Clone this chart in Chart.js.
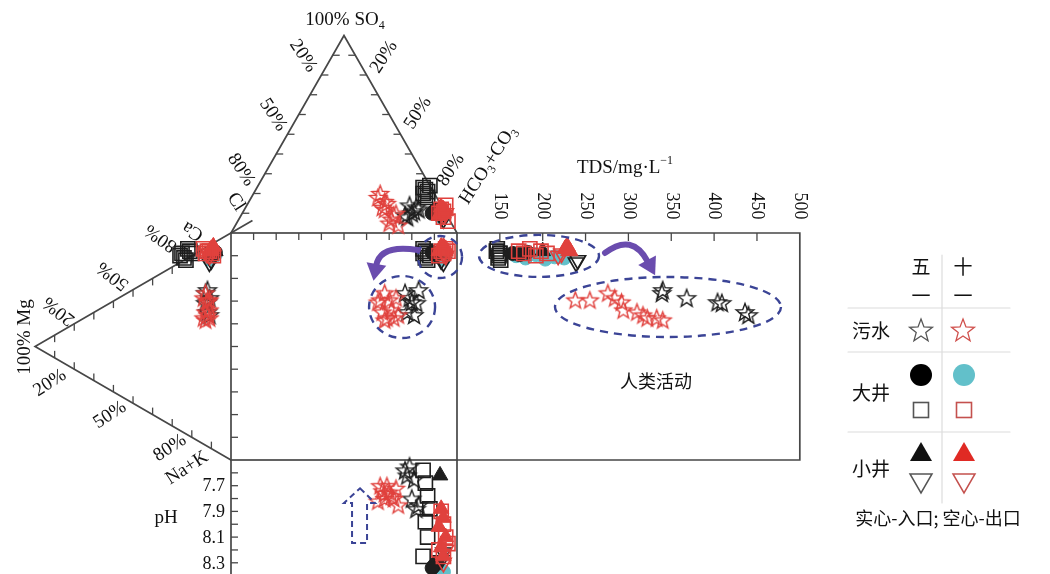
<!DOCTYPE html>
<html>
<head>
<meta charset="utf-8">
<script src="https://cdn.jsdelivr.net/npm/chart.js@4.4.0/dist/chart.umd.min.js"></script>
<style>
  html, body { margin: 0; padding: 0; background: #fff; }
  #wrap { width: 1050px; height: 574px; position: relative; }
</style>
</head>
<body>
<div id="wrap"><canvas id="chart"></canvas></div>
<script>
// one row per sample: [HCO3 %, SO4 %, Ca %, Mg %, TDS mg/L, pH]
// (Cl = 100 - HCO3 - SO4, Na+K = 100 - Ca - Mg)
const sewageMay = [
  [77, 12, 68.9, 12, 340, 7.85],
  [72.5, 9, 67.1, 13, 339, 7.58],
  [72, 14, 65.9, 11, 368, 7.55],
  [75, 10, 63.6, 12, 404, 7.80],
  [75.5, 13, 62.7, 13, 409, 7.88],
  [74, 8, 59.2, 12, 436, 7.62],
  [75.5, 11, 58.4, 11, 440, 7.65]
];
const sewageOct = [
  [56, 20, 64.5, 12, 238, 7.70],
  [67.5, 5, 65, 11, 255, 7.75],
  [60, 16, 67.1, 13, 276, 7.80],
  [68, 10, 64.4, 14, 284, 7.72],
  [56, 18, 63.6, 12, 292, 7.82],
  [67.5, 7, 60.6, 11, 294, 7.78],
  [60.5, 13, 58.7, 13, 310, 7.74],
  [72, 4, 57.9, 12, 317, 7.85],
  [61.5, 15, 55.6, 14, 322, 7.70],
  [67.5, 9, 57.1, 11, 333, 7.80],
  [62, 12, 55.2, 13, 340, 7.76]
];
const bigInMay = [
  [84.5, 11, 86.5, 9, 165, 8.32],
  [85, 12, 85.5, 10, 173, 8.30],
  [84, 10, 87.5, 8, 182, 8.34]
];
const bigInOct = [
  [87, 10, 85.5, 9, 169, 8.35],
  [89, 8, 84, 10, 180, 8.36],
  [85, 12, 86.5, 8, 192, 8.33],
  [89.5, 9, 83, 11, 203, 8.37],
  [86.5, 11, 85, 9, 214, 8.34],
  [88, 10, 84, 10, 225, 8.36]
];
const bigOutMay = [
  [75, 20, 82, 22, 147, 7.58],
  [75, 22, 77, 24, 148, 7.68],
  [78, 18, 81, 20, 150, 7.78],
  [76, 24, 77, 26, 149, 7.88],
  [76.5, 19, 81.5, 21, 146, 7.98],
  [76.5, 21, 76.5, 23, 151, 8.10],
  [73.5, 23, 78.5, 25, 150, 8.25]
];
const bigOutOct = [
  [87, 12, 86, 12, 172, 7.90],
  [90, 8, 86, 10, 178, 8.00],
  [88, 14, 86, 14, 185, 8.10],
  [87, 10, 85.5, 9, 192, 8.20],
  [93, 6, 86.5, 11, 198, 8.15],
  [88.5, 11, 84.5, 13, 205, 8.25]
];
const smallInMay = [
  [86.5, 12, 88, 8, 200, 7.62]
];
const smallInOct = [
  [88, 10, 88, 10, 226, 7.88],
  [88, 12, 89.5, 9, 228, 7.95],
  [87.5, 9, 86.5, 11, 230, 8.02],
  [89.5, 11, 88, 10, 227, 8.10],
  [86.5, 13, 89.5, 9, 229, 8.18],
  [89, 10, 87, 10, 232, 8.25]
];
const smallOutMay = [
  [89, 8, 83, 10, 241, 8.28],
  [90.5, 7, 81.5, 11, 239, 8.22]
];
const smallOutOct = [
  [89.5, 9, 85, 12, 222, 8.30],
  [90, 10, 84.5, 11, 218, 8.20]
];

const tdsTicks = [150, 200, 250, 300, 350, 400, 450, 500];
const phTicks = [7.7, 7.9, 8.1, 8.3];

const BLACK = '#1e1e1e';
const RED = '#e0413d';
const CYAN = '#62c0ca';
const LINE = '#474747';
const NAVY = '#3b4496';
const PURPLE = '#6a4cae';
const SERIF = "'Liberation Serif', 'DejaVu Serif', serif";
const CJK = "'Noto Sans CJK SC', sans-serif";

const TRI_H = 87;        // height of the anion triangle, in % units of the square
const LEFT_APEX = -86.7; // Mg apex of the cation triangle

function starPath(g, cx, cy, r) {
  const ri = r * 0.42;
  g.beginPath();
  for (let i = 0; i < 10; i++) {
    const a = -Math.PI / 2 + i * Math.PI / 5;
    const rr = i % 2 ? ri : r;
    g.lineTo(cx + rr * Math.cos(a), cy + rr * Math.sin(a));
  }
  g.closePath();
}

function starImage(color, r, lw) {
  const c = document.createElement('canvas');
  const s = Math.ceil(2 * r + 2 * lw + 2);
  c.width = c.height = s;
  const g = c.getContext('2d');
  starPath(g, s / 2, s / 2 + 0.8, r);
  g.strokeStyle = color;
  g.lineWidth = lw;
  g.stroke();
  return c;
}

function panels(rows) {
  const tri = [], cat = [], sq = [], tds = [], ph = [];
  rows.forEach(([hco3, so4, ca, mg, t, p]) => {
    const ax = hco3 + so4 / 2;
    const cy = ca + mg / 2;
    tri.push({ x: ax, y: 100 + so4 / 100 * TRI_H });
    cat.push({ x: LEFT_APEX * mg / 100, y: cy });
    sq.push({ x: ax, y: cy });
    tds.push({ x: t, y: cy });
    ph.push({ x: ax, y: p });
  });
  return { tri, cat, sq, tds, ph };
}

function markStyle(kind, color) {
  if (kind === 'star') {
    return { pointStyle: starImage(color, color === RED ? 8.8 : 9.3, 1.4), pointRadius: 9,
      backgroundColor: color, borderColor: color };
  }
  if (kind === 'dot') {
    return { pointStyle: 'circle', pointRadius: 7, backgroundColor: color, borderColor: color, borderWidth: 1 };
  }
  if (kind === 'square') {
    return { pointStyle: 'rect', pointRadius: 10, backgroundColor: 'rgba(0,0,0,0)', borderColor: color, borderWidth: 1.6 };
  }
  if (kind === 'tri') {
    return { pointStyle: 'triangle', pointRadius: 9, backgroundColor: color, borderColor: color, borderWidth: 1 };
  }
  return { pointStyle: 'triangle', rotation: 180, pointRadius: 9, backgroundColor: 'rgba(0,0,0,0)', borderColor: color, borderWidth: 1.6 };
}

const series = [
  { rows: sewageOct, kind: 'star', color: RED, order: 0 },
  { rows: bigOutOct, kind: 'square', color: RED, order: 1 },
  { rows: smallInOct, kind: 'tri', color: RED, order: 2 },
  { rows: smallOutOct, kind: 'down', color: RED, order: 3 },
  { rows: sewageMay, kind: 'star', color: BLACK, order: 4 },
  { rows: bigOutMay, kind: 'square', color: BLACK, order: 5 },
  { rows: smallOutMay, kind: 'down', color: BLACK, order: 6 },
  { rows: smallInMay, kind: 'tri', color: BLACK, order: 7 },
  { rows: bigInMay, kind: 'dot', color: BLACK, order: 8 },
  { rows: bigInOct, kind: 'dot', color: CYAN, order: 9 }
];

const datasets = [];
series.forEach(s => {
  const p = panels(s.rows);
  const st = markStyle(s.kind, s.color);
  [['tri', 'x', 'y'], ['cat', 'x', 'y'], ['sq', 'x', 'y'], ['tds', 'xt', 'y'], ['ph', 'x', 'yp']].forEach(([k, xa, ya]) => {
    datasets.push(Object.assign({ data: p[k], xAxisID: xa, yAxisID: ya, order: s.order, clip: false }, st));
  });
});

// annotations, placed in the chart's own units
const ellipses = [
  { ax: 'x', x: 75.7, y: 67.4, rx: 33, ry: 31 },
  { ax: 'x', x: 92.5, y: 89.4, rx: 22, ry: 21 },
  { ax: 'xt', x: 195.7, y: 89.9, rx: 60, ry: 21 },
  { ax: 'xt', x: 346.2, y: 67.4, rx: 113, ry: 30 }
];
const arrows = [
  { ax: 'x', pts: [[82.7, 92.5], [65.9, 95.2], [64.2, 85.5]] },
  { ax: 'xt', pts: [[272.7, 91.2], [304.2, 100.4], [322.9, 87.2]] }
];

function richText(g, parts, x, y, deg, size, family) {
  if (typeof parts === 'string') parts = [[parts, 'n']];
  g.save();
  g.translate(x, y);
  g.rotate(deg * Math.PI / 180);
  g.textBaseline = 'middle';
  g.textAlign = 'left';
  g.fillStyle = '#111';
  const fontOf = k => (k === 'n' ? size : Math.round(size * 0.62)) + 'px ' + family;
  let w = 0;
  parts.forEach(([t, k]) => { g.font = fontOf(k); w += g.measureText(t).width; });
  let cx = -w / 2;
  parts.forEach(([t, k]) => {
    g.font = fontOf(k);
    const dy = k === 'sub' ? size * 0.32 : k === 'sup' ? -size * 0.38 : 0;
    g.fillText(t, cx, dy);
    cx += g.measureText(t).width;
  });
  g.restore();
}

const labels = [
  [[['100% SO', 'n'], ['4', 'sub']], 345, 20, 0],
  ['20%', 303, 56, 57], ['50%', 273, 115, 57], ['80%', 241, 170, 57], ['Cl', 236, 202, 57],
  ['20%', 384, 57, -57], ['50%', 418, 113, -57], ['80%', 451, 170, -57],
  [[['HCO', 'n'], ['3', 'sub'], ['+CO', 'n'], ['3', 'sub']], 488, 165, -57],
  ['Ca', 193, 231, 212], ['80%', 161, 238, 215], ['50%', 113, 276, 218], ['20%', 59, 311, 218],
  ['100% Mg', 25, 337, -90],
  ['20%', 50, 383, -33], ['50%', 110, 415, -33], ['80%', 170, 448, -33], ['Na+K', 187, 468, -33],
  ['pH', 166, 518, 0],
  [[['TDS/mg·L', 'n'], ['−1', 'sup']], 625, 168, 0]
];

const durov = {
  id: 'durov',
  beforeDatasetsDraw(chart) {
    const g = chart.ctx;
    const X = chart.scales.x, XT = chart.scales.xt, Y = chart.scales.y, YP = chart.scales.yp;
    const P = (x, y) => [X.getPixelForValue(x), Y.getPixelForValue(y)];
    const line = pts => { g.beginPath(); pts.forEach((p, i) => i ? g.lineTo(p[0], p[1]) : g.moveTo(p[0], p[1])); g.stroke(); };
    g.save();
    g.strokeStyle = LINE;
    g.lineWidth = 1.7;
    // anion triangle
    line([P(0, 100), P(50, 100 + TRI_H), P(100, 100)]);
    // cation triangle (upper side runs a little past the Ca corner)
    line([P(9.5, 105.5), P(LEFT_APEX, 50), P(0, 0)]);
    // square
    const [l, t] = P(0, 100), [r, b] = P(100, 0);
    g.strokeRect(l, t, r - l, b - t);
    // TDS box
    const tr = XT.getPixelForValue(500);
    line([[r, t], [tr, t], [tr, b], [r, b]]);
    // pH box
    line([[l, b], [l, chart.height + 2]]);
    line([[r, b], [r, chart.height + 2]]);

    g.lineWidth = 1.3;
    for (let i = 1; i < 10; i++) {
      const f = i / 10;
      let p;
      p = P(50 * f, 100 + TRI_H * f); line([p, [p[0] + 7, p[1]]]);
      p = P(100 - 50 * f, 100 + TRI_H * f); line([p, [p[0] - 7, p[1]]]);
      p = P(LEFT_APEX * f, 100 - 50 * f); line([p, [p[0], p[1] + 7]]);
      p = P(LEFT_APEX * f, 50 * f); line([p, [p[0], p[1] - 7]]);
      p = P(i * 10, 100); line([p, [p[0], p[1] + 7]]);
      p = P(0, i * 10); line([p, [p[0] + 7, p[1]]]);
    }
    tdsTicks.forEach(v => {
      const x = XT.getPixelForValue(v);
      if (v < 500) line([[x, t], [x, t + 8]]);
      richText(g, String(v), x, 206, 90, 18, SERIF);
    });
    for (let v = 7.6; v < 8.45; v += 0.1) {
      const y = YP.getPixelForValue(v);
      line([[l, y], [l + 7, y]]);
    }
    phTicks.forEach(v => {
      const y = YP.getPixelForValue(v);
      g.save();
      g.font = '18px ' + SERIF;
      g.fillStyle = '#111';
      g.textAlign = 'right';
      g.textBaseline = 'middle';
      g.fillText(v.toFixed(1), l - 6, y + 1);
      g.restore();
    });
    labels.forEach(([txt, x, y, deg]) => richText(g, txt, x, y, deg, 19, SERIF));
    richText(g, '人类活动', 656, 381, 0, 18, CJK);
    g.restore();
  },
  afterDatasetsDraw(chart) {
    const g = chart.ctx;
    const Y = chart.scales.y, YP = chart.scales.yp, X = chart.scales.x;
    g.save();
    // dashed ellipses
    g.strokeStyle = NAVY;
    g.lineWidth = 2.4;
    g.setLineDash([8, 6]);
    ellipses.forEach(e => {
      const cx = chart.scales[e.ax].getPixelForValue(e.x), cy = Y.getPixelForValue(e.y);
      g.beginPath();
      g.ellipse(cx, cy, e.rx, e.ry, 0, 0, Math.PI * 2);
      g.stroke();
    });
    // dashed hollow up arrow in the pH box
    const ax = X.getPixelForValue(57.1);
    const tip = YP.getPixelForValue(7.72), neck = YP.getPixelForValue(7.835), foot = YP.getPixelForValue(8.146);
    g.lineWidth = 2;
    g.setLineDash([6, 4]);
    g.beginPath();
    g.moveTo(ax, tip);
    g.lineTo(ax + 15, neck);
    g.lineTo(ax + 7, neck);
    g.lineTo(ax + 7, foot);
    g.lineTo(ax - 8, foot);
    g.lineTo(ax - 8, neck);
    g.lineTo(ax - 16, neck);
    g.closePath();
    g.stroke();
    g.setLineDash([]);
    // purple curved arrows
    arrows.forEach(a => {
      const S = chart.scales[a.ax];
      const p = a.pts.map(([x, y]) => [S.getPixelForValue(x), Y.getPixelForValue(y)]);
      g.strokeStyle = PURPLE;
      g.fillStyle = PURPLE;
      g.lineWidth = 6;
      g.lineCap = 'round';
      g.beginPath();
      g.moveTo(p[0][0], p[0][1]);
      g.quadraticCurveTo(p[1][0], p[1][1], p[2][0], p[2][1]);
      g.stroke();
      const dx = p[2][0] - p[1][0], dy = p[2][1] - p[1][1], d = Math.hypot(dx, dy);
      const ux = dx / d, uy = dy / d;
      const tx = p[2][0] + ux * 15, ty = p[2][1] + uy * 15;
      const bx = p[2][0] - ux * 2, by = p[2][1] - uy * 2;
      g.beginPath();
      g.moveTo(tx, ty);
      g.lineTo(bx - uy * 10, by + ux * 10);
      g.lineTo(bx + uy * 10, by - ux * 10);
      g.closePath();
      g.fill();
    });

    // legend table
    g.strokeStyle = '#dcdcdc';
    g.lineWidth = 1.2;
    g.beginPath();
    g.moveTo(942, 255); g.lineTo(942, 503);
    [308, 352, 432].forEach(y => { g.moveTo(848, y); g.lineTo(1010, y); });
    g.stroke();
    [['五', 921, 267], ['一', 921, 296], ['十', 963, 267], ['一', 963, 296],
     ['污水', 871, 331], ['大井', 871, 393], ['小井', 871, 469]].forEach(([t, x, y]) => richText(g, t, x, y, 0, 19, CJK));
    richText(g, '实心-入口; 空心-出口', 938, 518, 0, 18, CJK);

    const legendStar = (x, y, c) => { starPath(g, x, y + 1, 12); g.strokeStyle = c; g.lineWidth = 1.3; g.stroke(); };
    legendStar(921, 330, '#555');
    legendStar(963, 330, '#d0504c');
    g.fillStyle = '#000';
    g.beginPath(); g.arc(921, 375, 11, 0, Math.PI * 2); g.fill();
    g.fillStyle = CYAN;
    g.beginPath(); g.arc(964, 375, 11, 0, Math.PI * 2); g.fill();
    g.lineWidth = 1.6;
    g.strokeStyle = '#555'; g.strokeRect(913.5, 402.5, 15, 15);
    g.strokeStyle = '#c4514e'; g.strokeRect(956.5, 402.5, 15, 15);
    const tri = (x, y, up, fill, stroke) => {
      g.beginPath();
      if (up) { g.moveTo(x, y - 10); g.lineTo(x + 11, y + 9); g.lineTo(x - 11, y + 9); }
      else { g.moveTo(x - 11, y - 9); g.lineTo(x + 11, y - 9); g.lineTo(x, y + 10); }
      g.closePath();
      if (fill) { g.fillStyle = fill; g.fill(); }
      if (stroke) { g.strokeStyle = stroke; g.lineWidth = 1.5; g.stroke(); }
    };
    tri(921, 452, true, '#111', null);
    tri(964, 452, true, '#e02a24', null);
    tri(921, 483, false, null, '#555');
    tri(964, 483, false, null, '#c4514e');
    g.restore();
  }
};

new Chart(document.getElementById('chart'), {
  type: 'scatter',
  data: { datasets },
  options: {
    responsive: true,
    maintainAspectRatio: false,
    animation: false,
    events: [],
    layout: { padding: 0, autoPadding: false },
    plugins: { legend: { display: false }, tooltip: { enabled: false } },
    scales: {
      x: { type: 'linear', axis: 'x', display: false, min: -102.21, max: 362.39 },
      xt: { type: 'linear', axis: 'x', display: false, min: -433.2, max: 791.9 },
      y: { type: 'linear', axis: 'y', display: false, min: -50.22, max: 202.64 },
      yp: { type: 'linear', axis: 'y', display: false, min: 3.9202, max: 8.3872, reverse: true }
    }
  },
  plugins: [durov]
});
</script>
</body>
</html>
